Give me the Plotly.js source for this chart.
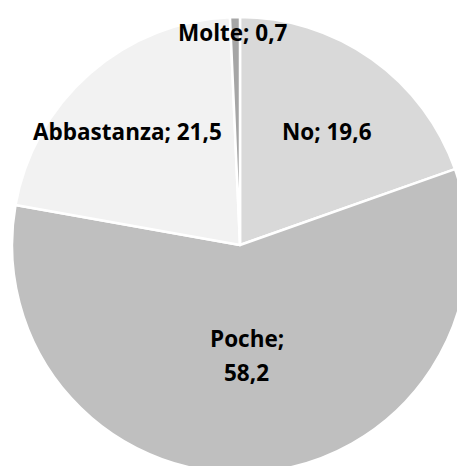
<!DOCTYPE html>
<html>
<head>
<meta charset="utf-8">
<script src="https://cdn.plot.ly/plotly-3.0.1.min.js"></script>
<style>
html,body{margin:0;padding:0;overflow:hidden;background:#fff;width:457px;height:466px;}
#chart{width:480px;height:480px;}
</style>
</head>
<body>
<div id="chart"></div>
<script>
// Data
const categories = ['No', 'Poche', 'Abbastanza', 'Molte'];
const values = [19.6, 58.2, 21.5, 0.7];
const sliceColors = ['#d9d9d9', '#bfbfbf', '#f2f2f2', '#a6a6a6'];
// label line breaks (Poche label wraps onto two lines)
const labelSplit = [false, true, false, false];
// label anchor positions in pixels (layout)
const labelPos = [[327, 131], [247, 355], [127, 131], [233, 33]];

const W = 480, H = 480;
const fmt = v => v.toFixed(1).replace('.', ',');

const annotations = [];
categories.forEach((c, i) => {
  const lines = labelSplit[i] ? [c + ';', fmt(values[i])] : [c + '; ' + fmt(values[i])];
  const lh = 34;
  lines.forEach((t, j) => {
    const py = labelPos[i][1] + (j - (lines.length - 1) / 2) * lh;
    annotations.push({
      text: '<b>' + t + '</b>',
      x: labelPos[i][0] / W, y: 1 - py / H,
      xref: 'paper', yref: 'paper', showarrow: false,
      xanchor: 'center', yanchor: 'middle',
      font: {family: '"Open Sans", sans-serif', size: 22.5, color: '#000'}
    });
  });
});

const trace = {
  type: 'pie',
  labels: categories,
  values: values,
  sort: false,
  direction: 'clockwise',
  rotation: 0,
  textinfo: 'none',
  hoverinfo: 'label+value',
  marker: {colors: sliceColors, line: {color: '#ffffff', width: 2.5}},
  domain: {x: [12 / W, 468 / W], y: [1 - 473 / H, 1 - 17 / H]},
  showlegend: false
};

Plotly.newPlot('chart', [trace], {
  width: W, height: H,
  margin: {l: 0, r: 0, t: 0, b: 0},
  paper_bgcolor: '#fff',
  showlegend: false,
  separators: ', ',
  annotations: annotations
}, {displayModeBar: false, staticPlot: true});
</script>
</body>
</html>
